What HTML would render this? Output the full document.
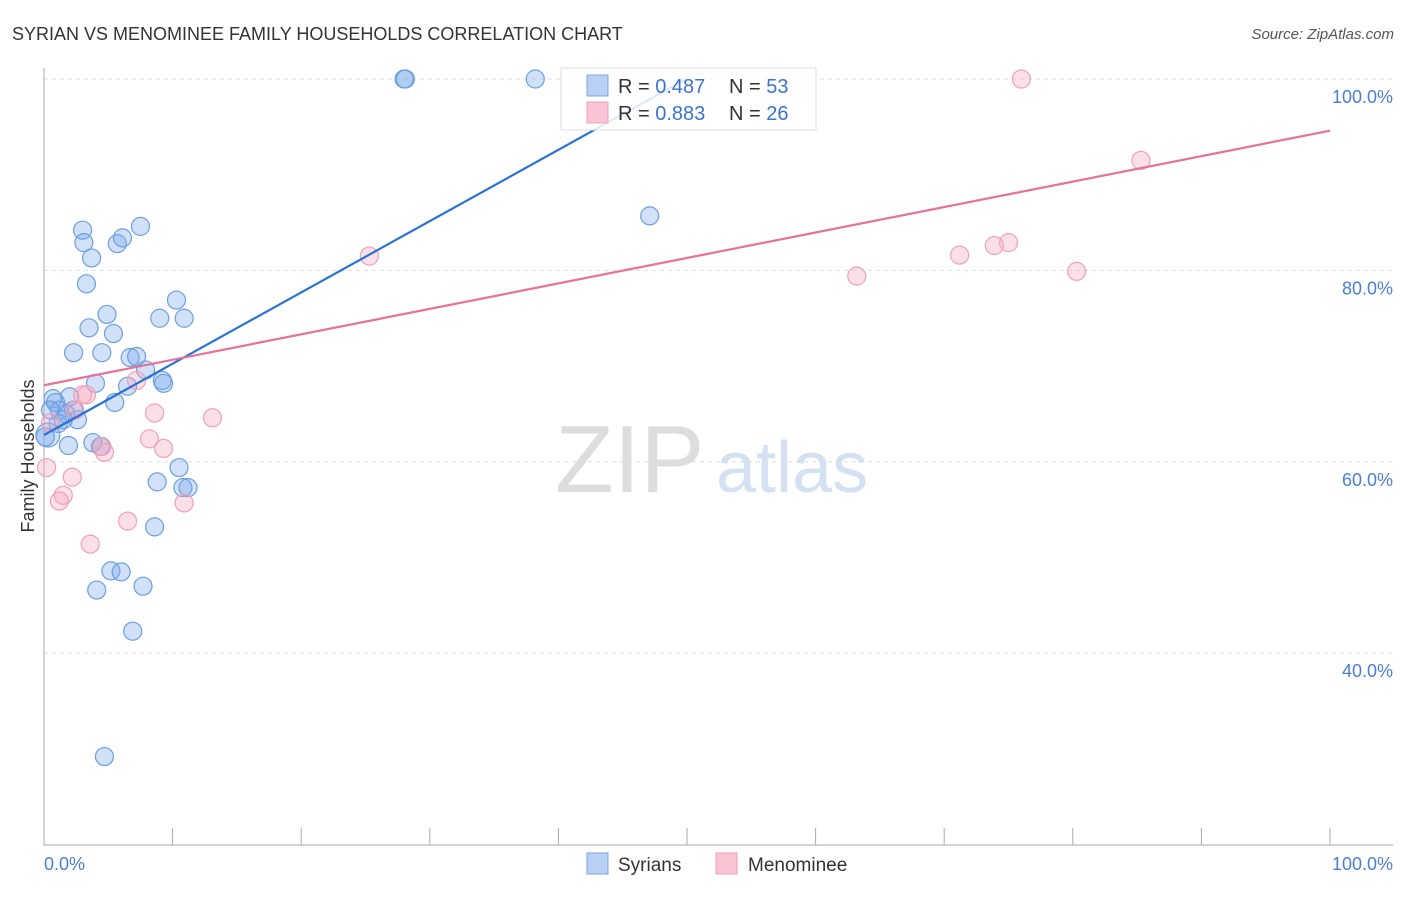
<!DOCTYPE html>
<html><head><meta charset="utf-8"><style>
body{margin:0;background:#fff;font-family:"Liberation Sans",sans-serif;}
svg text{font-family:"Liberation Sans",sans-serif;}
</style></head><body>
<svg width="1406" height="892">
<text x="12" y="40" font-size="18" fill="#333">SYRIAN VS MENOMINEE FAMILY HOUSEHOLDS CORRELATION CHART</text>
<text x="1394" y="39" font-size="15" fill="#555" font-style="italic" text-anchor="end">Source: ZipAtlas.com</text>
<g>
<text x="555" y="492" font-size="96" fill="#ddd" font-family="Liberation Serif, serif">ZIP</text>
<text x="716" y="492" font-size="72" fill="#d3e1f3">atlas</text>
</g>
<g id="grid"></g>
<line x1="44" y1="68" x2="44" y2="845" stroke="#aaa"/>
<line x1="44" y1="845" x2="1393" y2="845" stroke="#aaa"/>
<g id="xticks"></g>
<text x="34" y="456" font-size="18" fill="#333" text-anchor="middle" transform="rotate(-90 34 456)">Family Households</text>
<text x="44" y="870" font-size="18" fill="#4a7fd4">0.0%</text>
<text x="1393" y="870" font-size="18" fill="#4a7fd4" text-anchor="end">100.0%</text>
<g id="pts"></g>
<g id="lines"></g>
<g>
<rect x="561" y="68" width="255" height="62" fill="#fff" fill-opacity="0.85" stroke="#ddd"/>
<rect x="587" y="75" width="21" height="21" fill="#b7d0f3" stroke="#7aa6e2"/>
<rect x="587" y="102" width="21" height="21" fill="#f9c4d4" stroke="#f0a0b8"/>
<text x="618" y="93" font-size="20" fill="#333">R = <tspan fill="#3a74d0">0.487</tspan><tspan x="729">N = </tspan><tspan fill="#3a74d0">53</tspan></text>
<text x="618" y="120" font-size="20" fill="#333">R = <tspan fill="#3a74d0">0.883</tspan><tspan x="729">N = </tspan><tspan fill="#3a74d0">26</tspan></text>
</g>
<g><rect x="587" y="853" width="21" height="21" fill="#b7d0f3" stroke="#7aa6e2"/><text x="618" y="871" font-size="19" fill="#333">Syrians</text></g>
<g><rect x="716" y="853" width="21" height="21" fill="#f9c4d4" stroke="#f0a0b8"/><text x="748" y="871" font-size="19" fill="#333">Menominee</text></g>
</svg>
<script>
const yTicks=[40,60,80,100];
const blueX=[28.0,28.1,38.2,47.1,3.0,7.5,3.1,5.7,6.1,3.7,3.3,10.3,4.9,9.0,10.9,3.5,5.4,2.3,4.5,6.7,7.2,7.9,4.0,6.5,9.2,9.3,2.0,0.7,0.9,5.5,2.3,1.2,1.7,2.6,1.1,1.9,3.8,4.4,0.3,10.5,8.8,10.8,11.2,8.6,5.2,6.0,7.7,4.1,6.9,4.7,0.1,1.5,0.5];
const blueY=[100,100,100,85.7,84.2,84.6,82.9,82.8,83.4,81.3,78.6,76.9,75.4,75.0,75.0,74.0,73.4,71.4,71.4,70.9,71.0,69.6,68.2,67.9,68.5,68.2,66.8,66.6,66.2,66.2,65.4,65.4,65.0,64.4,64.0,61.7,62.0,61.6,62.8,59.4,57.9,57.3,57.3,53.2,48.6,48.5,47.0,46.6,42.3,29.2,62.6,64.4,65.4];
const pinkX=[76.0,85.3,25.3,75.0,73.9,71.2,63.2,80.3,7.2,3.3,3.0,8.6,13.1,2.4,8.2,9.3,4.5,4.7,0.2,2.2,1.5,1.2,10.9,6.5,3.6,0.5];
const pinkY=[100,91.5,81.5,82.9,82.6,81.6,79.4,79.9,68.5,67.0,67.0,65.1,64.6,65.4,62.4,61.4,61.6,61.0,59.4,58.4,56.5,55.9,55.7,53.8,51.4,64.1];
const blueTrend=[62.8,0.745];
const pinkTrend=[68.0,0.266];
const X=v=>44+v*12.86, Y=v=>79+(100-v)*9.57;
const NS="http://www.w3.org/2000/svg";
function mk(t,a,p){const e=document.createElementNS(NS,t);for(const k in a)e.setAttribute(k,a[k]);p.appendChild(e);return e;}
const grid=document.getElementById('grid');
yTicks.forEach(t=>{
 const l=mk('line',{x1:44,x2:1393,y1:Y(t),y2:Y(t),stroke:'#ddd','stroke-dasharray':'4 4'},grid);
 
 
 const tx=mk('text',{x:1393,y:Y(t)+24,'font-size':18,fill:'#4a7fd4','text-anchor':'end'},grid);
 tx.textContent=t.toFixed(1)+'%';
 
 
});
const xt=document.getElementById('xticks');
for(let i=0;i<=10;i++){const l=mk('line',{x1:X(i*10),x2:X(i*10),y1:828,y2:845,stroke:'#aaa'},xt);
 
 }
const pts=document.getElementById('pts');
blueX.forEach((x,i)=>{const c=mk('circle',{cx:X(x),cy:Y(blueY[i]),r:(i==38?12:9),fill:'rgba(120,170,235,0.35)',stroke:'#6c9fe0','stroke-width':1.2},pts);
 
 });
pinkX.forEach((x,i)=>{const c=mk('circle',{cx:X(x),cy:Y(pinkY[i]),r:9,fill:'rgba(245,165,190,0.35)',stroke:'#f0a0b8','stroke-width':1.2},pts);
 
 });
const lines=document.getElementById('lines');
const bEnd=(100-blueTrend[0])/blueTrend[1];
const bl=mk('line',{x1:X(0),y1:Y(blueTrend[0]),x2:X(bEnd),y2:Y(100),stroke:'#2a72d6','stroke-width':2.2},lines);


const pl=mk('line',{x1:X(0),y1:Y(pinkTrend[0]),x2:X(100),y2:Y(pinkTrend[0]+100*pinkTrend[1]),stroke:'#e8709a','stroke-width':2.2},lines);


</script>
</body></html>
